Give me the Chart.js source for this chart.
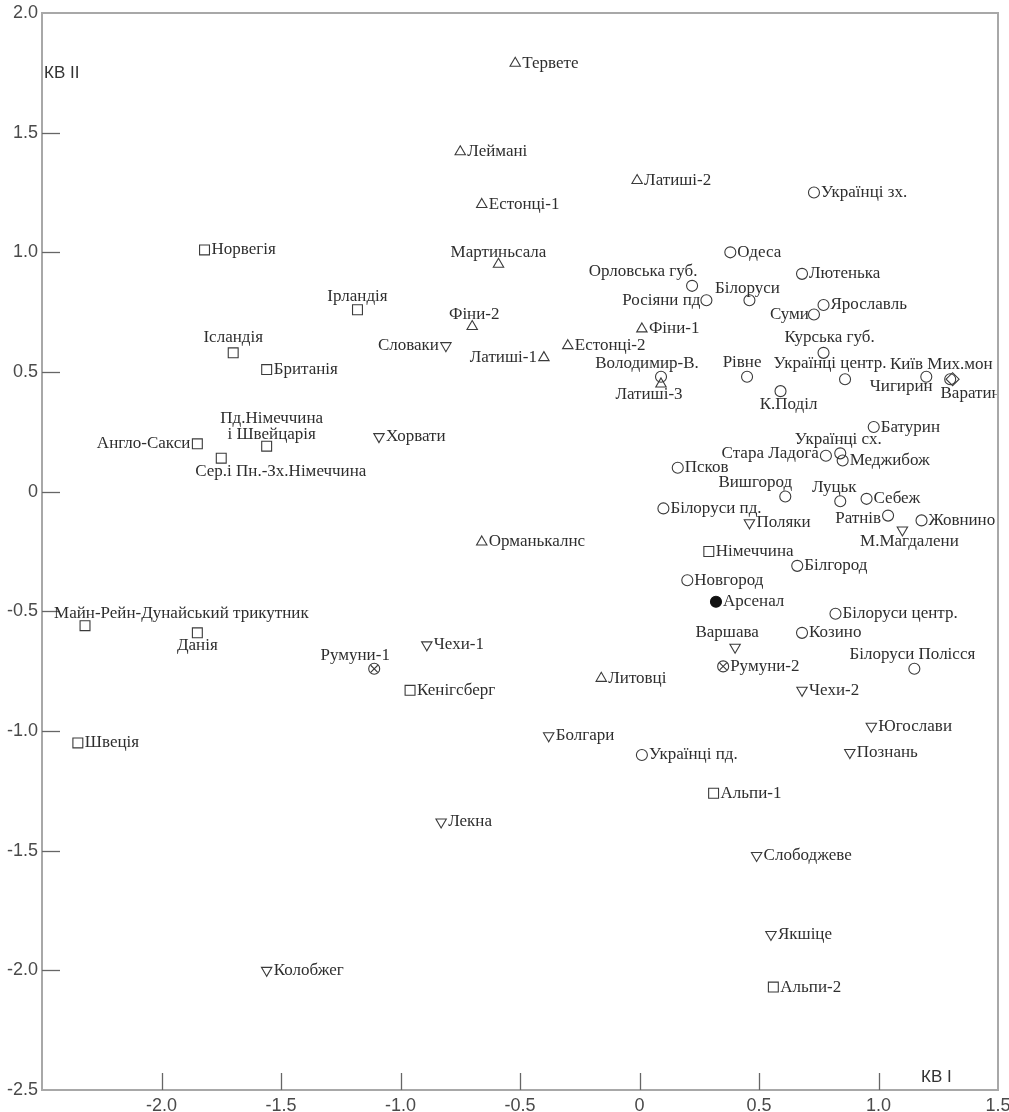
<!DOCTYPE html>
<html>
<head>
<meta charset="utf-8">
<script src="https://cdn.jsdelivr.net/npm/chart.js@4.4.1/dist/chart.umd.min.js"></script>
<style>
  html, body { margin: 0; padding: 0; background: #ffffff; overflow: hidden; }
  #wrap { width: 1009px; height: 1112px; position: relative; }
</style>
</head>
<body>
<div id="wrap"><canvas id="chart" width="1009" height="1112"></canvas></div>
<script>
// Germanic and Nordic samples (squares)
const squareNames = ['Норвегія', 'Ірландія', 'Ісландія', 'Британія', 'Англо-Сакси',
  'Пд.Німеччина\nі Швейцарія', 'Сер.і Пн.-Зх.Німеччина', 'Майн-Рейн-Дунайський трикутник',
  'Данія', 'Швеція', 'Кенігсберг', 'Німеччина', 'Альпи-1', 'Альпи-2'];
const squareX = [-1.82, -1.18, -1.70, -1.56, -1.85, -1.56, -1.75, -2.32, -1.85, -2.35, -0.96, 0.29, 0.31, 0.56];
const squareY = [1.01, 0.76, 0.58, 0.51, 0.20, 0.19, 0.14, -0.56, -0.59, -1.05, -0.83, -0.25, -1.26, -2.07];

// Baltic and Finnic samples (triangles)
const triangleNames = ['Тервете', 'Леймані', 'Естонці-1', 'Мартиньсала', 'Латиші-2', 'Фіни-2',
  'Латиші-1', 'Естонці-2', 'Фіни-1', 'Латиші-3', 'Орманькалнс', 'Литовці'];
const triangleX = [-0.52, -0.75, -0.66, -0.59, -0.01, -0.70, -0.40, -0.30, 0.01, 0.09, -0.66, -0.16];
const triangleY = [1.79, 1.42, 1.20, 0.95, 1.30, 0.69, 0.56, 0.61, 0.68, 0.45, -0.21, -0.78];

// West and South Slavic samples (inverted triangles)
const invTriangleNames = ['Словаки', 'Хорвати', 'Поляки', 'М.Магдалени', 'Варшава', 'Чехи-2', 'Чехи-1',
  'Болгари', 'Лекна', 'Югослави', 'Познань', 'Слободжеве', 'Якшіце', 'Колобжег'];
const invTriangleX = [-0.81, -1.09, 0.46, 1.10, 0.40, 0.68, -0.89, -0.38, -0.83, 0.97, 0.88, 0.49, 0.55, -1.56];
const invTriangleY = [0.61, 0.23, -0.13, -0.16, -0.65, -0.83, -0.64, -1.02, -1.38, -0.98, -1.09, -1.52, -1.85, -2.00];

// East Slavic samples (circles)
const circleNames = ['Українці зх.', 'Одеса', 'Лютенька', 'Орловська губ.', 'Росіяни пд', 'Білоруси',
  'Суми', 'Ярославль', 'Курська губ.', 'Рівне', 'Українці центр.', 'К.Поділ', 'Київ Мих.мон',
  'Чигирин', 'Батурин', 'Українці сх.', 'Стара Ладога', 'Меджибож', 'Псков', 'Вишгород', 'Луцьк',
  'Себеж', 'Білоруси пд.', 'Ратнів', 'Жовнино', 'Білгород', 'Новгород', 'Білоруси центр.',
  'Козино', 'Білоруси Полісся', 'Українці пд.', 'Володимир-В.'];
const circleX = [0.73, 0.38, 0.68, 0.22, 0.28, 0.46, 0.73, 0.77, 0.77, 0.45, 0.86, 0.59, 1.20,
  1.30, 0.98, 0.84, 0.78, 0.85, 0.16, 0.61, 0.84, 0.95, 0.10, 1.04, 1.18, 0.66, 0.20, 0.82,
  0.68, 1.15, 0.01, 0.09];
const circleY = [1.25, 1.00, 0.91, 0.86, 0.80, 0.80, 0.74, 0.78, 0.58, 0.48, 0.47, 0.42, 0.48,
  0.47, 0.27, 0.16, 0.15, 0.13, 0.10, -0.02, -0.04, -0.03, -0.07, -0.10, -0.12, -0.31, -0.37, -0.51,
  -0.59, -0.74, -1.10, 0.48];

// Studied sample (filled circle)
const studyNames = ['Арсенал'];
const studyX = [0.32];
const studyY = [-0.46];

// Romanian samples (crossed circles)
const romanianNames = ['Румуни-1', 'Румуни-2'];
const romanianX = [-1.11, 0.35];
const romanianY = [-0.74, -0.73];

// Diamond sample
const diamondNames = ['Варатин'];
const diamondX = [1.31];
const diamondY = [0.47];

// Axis ticks
const axisStep = 0.5;
const xMin = -2.5, xMax = 1.5;
const yMin = -2.5, yMax = 2.0;
const xTitle = 'КВ I';
const yTitle = 'КВ II';

// Label placement around a marker: [align, dx, dy]; default is to the right
const labelPlacement = {
  'Ірландія': ['center', 0, -13],
  'Ісландія': ['center', 0, -15],
  'Англо-Сакси': ['right', -7, 0],
  'Пд.Німеччина\nі Швейцарія': ['center', 5, -28],
  'Сер.і Пн.-Зх.Німеччина': ['left', -26, 13],
  'Майн-Рейн-Дунайський трикутник': ['left', -31, -12],
  'Данія': ['center', 0, 13],
  'Мартиньсала': ['center', 0, -12],
  'Фіни-2': ['center', 2, -12],
  'Латиші-1': ['right', -7, 0],
  'Латиші-3': ['center', -12, 11],
  'Словаки': ['right', -7, 0],
  'М.Магдалени': ['center', 7, 12],
  'Варшава': ['center', -8, -15],
  'Орловська губ.': ['center', -49, -14],
  'Росіяни пд': ['right', -6, 0],
  'Білоруси': ['center', -2, -12],
  'Суми': ['right', -5, 0],
  'Курська губ.': ['center', 6, -15],
  'Рівне': ['center', -5, -14],
  'Українці центр.': ['center', -15, -16],
  'К.Поділ': ['center', 8, 13],
  'Київ Мих.мон': ['center', 15, -12],
  'Чигирин': ['center', -49, 7],
  'Українці сх.': ['center', -2, -14],
  'Стара Ладога': ['right', -7, -2],
  'Вишгород': ['center', -30, -14],
  'Луцьк': ['center', -6, -14],
  'Ратнів': ['right', -7, 3],
  'Білоруси Полісся': ['center', -2, -14],
  'Володимир-В.': ['center', -14, -13],
  'Румуни-1': ['center', -19, -13],
  'Варатин': ['center', 18, 14]
};

const toPoints = (xs, ys) => xs.map((x, i) => ({ x: x, y: ys[i] }));

const ink = '#3a3a3a';
const baseSet = {
  showLine: false,
  borderColor: ink,
  backgroundColor: 'rgba(0,0,0,0)',
  pointBorderWidth: 1.1,
  pointHoverRadius: 0
};

const datasets = [
  Object.assign({}, baseSet, { label: 'squares', names: squareNames, data: toPoints(squareX, squareY),
    pointStyle: 'rect', pointRadius: 7 }),
  Object.assign({}, baseSet, { label: 'triangles', names: triangleNames, data: toPoints(triangleX, triangleY),
    pointStyle: 'triangle', pointRadius: 6 }),
  Object.assign({}, baseSet, { label: 'inverted', names: invTriangleNames, data: toPoints(invTriangleX, invTriangleY),
    pointStyle: 'triangle', pointRadius: 6, pointRotation: 180 }),
  Object.assign({}, baseSet, { label: 'circles', names: circleNames, data: toPoints(circleX, circleY),
    pointStyle: 'circle', pointRadius: 5.5 }),
  Object.assign({}, baseSet, { label: 'study', names: studyNames, data: toPoints(studyX, studyY),
    pointStyle: 'circle', pointRadius: 5.5, backgroundColor: '#111', borderColor: '#111' }),
  Object.assign({}, baseSet, { label: 'romanian', names: romanianNames, data: toPoints(romanianX, romanianY),
    pointStyle: 'circle', pointRadius: 5.5 }),
  Object.assign({}, baseSet, { label: 'romanian-cross', names: null, data: toPoints(romanianX, romanianY),
    pointStyle: 'crossRot', pointRadius: 5 }),
  Object.assign({}, baseSet, { label: 'diamond', names: diamondNames, data: toPoints(diamondX, diamondY),
    pointStyle: 'rectRot', pointRadius: 6.5 })
];

const fmt = v => (Math.abs(v) < 1e-9 ? '0' : v.toFixed(1));

// Frame, inward ticks, axis titles and point labels
const decorPlugin = {
  id: 'decor',
  beforeDatasetsDraw(chart) {
    const { ctx, chartArea: a, scales } = chart;
    ctx.save();
    ctx.strokeStyle = '#a8a8a8';
    ctx.lineWidth = 2;
    ctx.strokeRect(a.left, a.top, a.right - a.left, a.bottom - a.top);
    ctx.strokeStyle = '#666';
    ctx.lineWidth = 1.3;
    scales.x.ticks.forEach(t => {
      if (t.value <= xMin || t.value >= xMax) return;
      const px = Math.round(scales.x.getPixelForValue(t.value)) + 0.5;
      ctx.beginPath(); ctx.moveTo(px, a.bottom); ctx.lineTo(px, a.bottom - 17); ctx.stroke();
    });
    scales.y.ticks.forEach(t => {
      if (t.value <= yMin || t.value >= yMax) return;
      const py = Math.round(scales.y.getPixelForValue(t.value)) + 0.5;
      ctx.beginPath(); ctx.moveTo(a.left, py); ctx.lineTo(a.left + 18, py); ctx.stroke();
    });
    ctx.fillStyle = '#333';
    ctx.font = '17px "Liberation Sans", Arial, sans-serif';
    ctx.textBaseline = 'middle';
    ctx.textAlign = 'left';
    ctx.fillText(yTitle, a.left + 2, a.top + 60);
    ctx.fillText(xTitle, a.right - 77, a.bottom - 13);
    ctx.restore();
  },
  afterDatasetsDraw(chart) {
    const { ctx, chartArea: a } = chart;
    ctx.save();
    ctx.beginPath();
    ctx.rect(a.left + 1, a.top + 1, a.right - a.left - 2, a.bottom - a.top - 2);
    ctx.clip();
    ctx.font = '17px "Liberation Serif", "Times New Roman", serif';
    ctx.fillStyle = '#2e2e2e';
    ctx.textBaseline = 'middle';
    chart.data.datasets.forEach((ds, di) => {
      if (!ds.names) return;
      const meta = chart.getDatasetMeta(di);
      meta.data.forEach((pt, i) => {
        const name = ds.names[i];
        const place = labelPlacement[name] || ['left', 7, 0];
        ctx.textAlign = place[0];
        name.split('\n').forEach((line, li) => {
          ctx.fillText(line, pt.x + place[1], pt.y + place[2] + li * 16);
        });
      });
    });
    ctx.restore();
  }
};

new Chart(document.getElementById('chart'), {
  type: 'scatter',
  data: { datasets: datasets },
  options: {
    responsive: false,
    animation: false,
    events: [],
    layout: { padding: { top: 13, right: 11, left: 0, bottom: 0 } },
    plugins: { legend: { display: false }, tooltip: { enabled: false } },
    scales: {
      x: {
        type: 'linear', min: xMin, max: xMax,
        grid: { display: false, drawTicks: false },
        border: { display: false },
        ticks: {
          stepSize: axisStep, padding: 5, color: '#4a4a4a',
          font: { family: '"Liberation Sans", Arial, sans-serif', size: 18 },
          callback: v => (v <= xMin ? '' : fmt(v))
        },
        afterFit: s => { s.height = 22; s.paddingRight = 0; s.paddingLeft = 0; }
      },
      y: {
        type: 'linear', min: yMin, max: yMax,
        grid: { display: false, drawTicks: false },
        border: { display: false },
        ticks: {
          stepSize: axisStep, padding: 4, color: '#4a4a4a',
          font: { family: '"Liberation Sans", Arial, sans-serif', size: 18 },
          callback: v => fmt(v)
        },
        afterFit: s => { s.width = 42; s.paddingTop = 0; s.paddingBottom = 0; }
      }
    }
  },
  plugins: [decorPlugin]
});
</script>
</body>
</html>
